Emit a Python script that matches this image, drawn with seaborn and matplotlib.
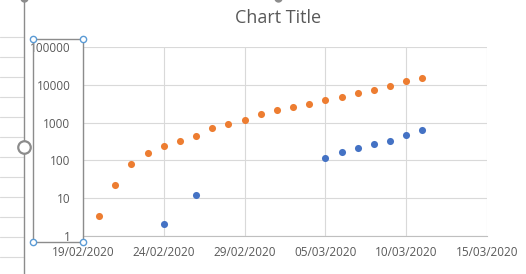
import matplotlib
matplotlib.use("Agg")
import matplotlib.pyplot as plt
import matplotlib.dates as mdates
from matplotlib.lines import Line2D
import seaborn as sns
import pandas as pd
import numpy as np

# ---- data ----
orange_dates = ["20/02/2020", "21/02/2020", "22/02/2020", "23/02/2020", "24/02/2020",
                "25/02/2020", "26/02/2020", "27/02/2020", "28/02/2020", "29/02/2020",
                "01/03/2020", "02/03/2020", "03/03/2020", "04/03/2020", "05/03/2020",
                "06/03/2020", "07/03/2020", "08/03/2020", "09/03/2020", "10/03/2020",
                "11/03/2020"]
orange_values = [3.3, 22, 81, 159, 234, 330, 450, 700, 940, 1200,
                 1700, 2100, 2650, 3200, 4050, 4900, 6200, 7500, 9300, 12900, 15500]

blue_dates = ["24/02/2020", "26/02/2020", "05/03/2020", "06/03/2020", "07/03/2020",
              "08/03/2020", "09/03/2020", "10/03/2020", "11/03/2020"]
blue_values = [2.1, 12.2, 119, 169, 215, 276, 330, 477, 620]

y_ticks = [1, 10, 100, 1000, 10000, 100000]
y_tick_labels = ["1", "10", "100", "1000", "10000", "100000"]
x_tick_dates = ["19/02/2020", "24/02/2020", "29/02/2020", "05/03/2020", "10/03/2020", "15/03/2020"]
title = "Chart Title"

ORANGE = "#ED7D31"
BLUE = "#4472C4"
TEXT = "#595959"
GRID = "#D9D9D9"

sns.set_style("white")
plt.rcParams["font.family"] = ["Open Sans", "DejaVu Sans"]

W, H = 526, 274
fig = plt.figure(figsize=(W / 100, H / 100), dpi=100)
fig.patch.set_facecolor("white")

def fx(x):
    return x / W

def fy(y):
    return 1 - y / H

left, right, top, bottom = 83, 487, 47, 236
ax = fig.add_axes([fx(left), fy(bottom), fx(right) - fx(left), fy(top) - fy(bottom)])

df_o = pd.DataFrame({"date": pd.to_datetime(orange_dates, format="%d/%m/%Y"), "value": orange_values})
df_b = pd.DataFrame({"date": pd.to_datetime(blue_dates, format="%d/%m/%Y"), "value": blue_values})

sns.scatterplot(data=df_b, x="date", y="value", ax=ax, color=BLUE, s=26, linewidth=0, zorder=3)
sns.scatterplot(data=df_o, x="date", y="value", ax=ax, color=ORANGE, s=26, linewidth=0, zorder=3)

ax.set_yscale("log")
ax.set_ylim(1, 100000)
ax.set_yticks(y_ticks)
ax.set_yticklabels(y_tick_labels)
ax.yaxis.set_minor_locator(matplotlib.ticker.NullLocator())

xt = pd.to_datetime(x_tick_dates, format="%d/%m/%Y")
ax.set_xlim(xt[0], xt[-1])
ax.set_xticks(xt)
ax.xaxis.set_major_formatter(mdates.DateFormatter("%d/%m/%Y"))

ax.grid(True, color=GRID, linewidth=0.8)
ax.set_axisbelow(True)
ax.set_xlabel("")
ax.set_ylabel("")
for side in ["left", "right", "top"]:
    ax.spines[side].set_visible(False)
ax.spines["bottom"].set_color("#BFBFBF")
ax.spines["bottom"].set_linewidth(0.8)
ax.tick_params(axis="both", length=0, labelsize=8.5, labelcolor=TEXT)
ax.tick_params(axis="y", pad=9)
ax.tick_params(axis="x", pad=7)

fig.text(fx(278), fy(18), title, ha="center", va="center", fontsize=13, color=TEXT)

# ---- spreadsheet / selection decoration around the chart ----
for yy in range(37, 274, 20):
    fig.add_artist(Line2D([fx(0), fx(23)], [fy(yy), fy(yy)], color="#DADADA", linewidth=0.8))
fig.add_artist(Line2D([fx(23.5), fx(23.5)], [fy(0), fy(274)], color="#8C8C8C", linewidth=1.0))
# selection rectangle
rx0, rx1, ry0, ry1 = 32.5, 83, 39, 242
fig.add_artist(Line2D([fx(rx0), fx(rx1), fx(rx1), fx(rx0), fx(rx0)],
                      [fy(ry0), fy(ry0), fy(ry1), fy(ry1), fy(ry0)],
                      color="#8C8C8C", linewidth=1.0))
for (hx, hy) in [(rx0, ry0), (rx1, ry0), (rx0, ry1), (rx1, ry1)]:
    fig.add_artist(Line2D([fx(hx)], [fy(hy)], marker="o", markersize=4.5,
                          markerfacecolor="white", markeredgecolor="#5B9BD5",
                          markeredgewidth=1.0, linestyle="none"))
fig.add_artist(Line2D([fx(23.5)], [fy(147)], marker="o", markersize=9,
                      markerfacecolor="white", markeredgecolor="#8C8C8C",
                      markeredgewidth=1.6, linestyle="none"))
for hx in [23.5, 278]:
    fig.add_artist(Line2D([fx(hx)], [fy(-2)], marker="o", markersize=5,
                          markerfacecolor="#8C8C8C", markeredgecolor="#8C8C8C",
                          linestyle="none"))

fig.savefig("out.png", dpi=100, facecolor="white")
